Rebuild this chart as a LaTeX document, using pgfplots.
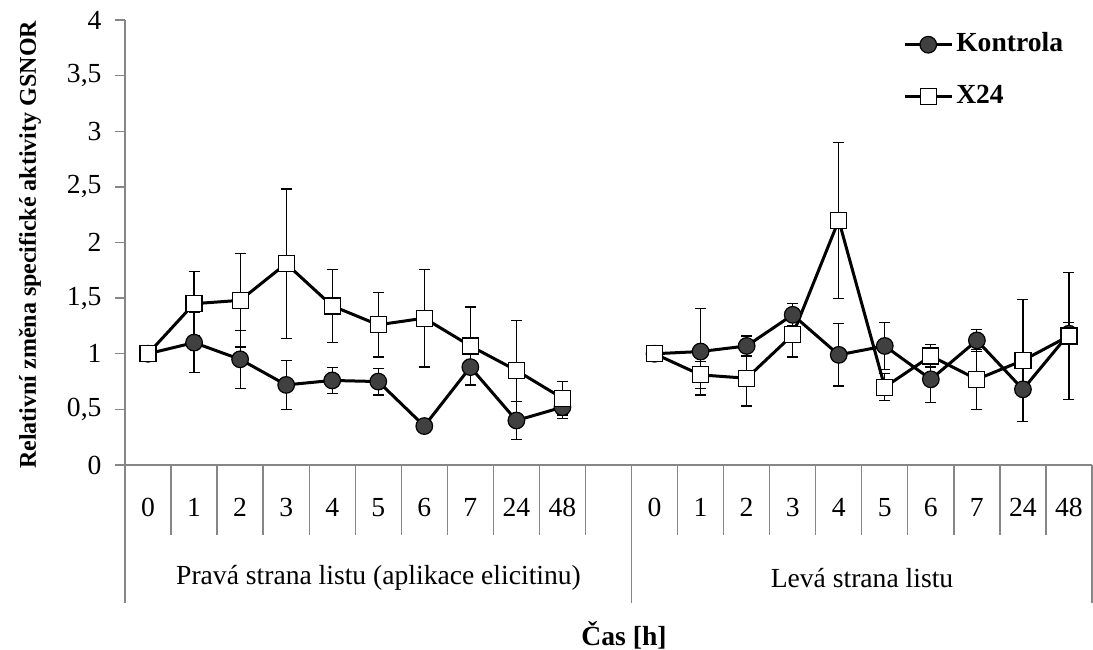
\documentclass[border=0pt]{standalone}
\usepackage{fontspec}
\setmainfont{Liberation Serif}
\usepackage{pgfplots}
\pgfplotsset{compat=1.18}

\definecolor{axgray}{RGB}{134,134,134}
\definecolor{dotgray}{RGB}{64,64,64}
\newcommand{\chartfont}{\fontsize{27.6bp}{33bp}\selectfont}

% x: 0..9 left side, 10 empty, 11..20 right side; columns: x y err
\pgfplotstableread{
x y e
0 1.00 0
1 1.10 0.27
2 0.95 0.26
3 0.72 0.22
4 0.76 0.12
5 0.75 0.12
6 0.35 0.03
7 0.88 0.16
8 0.40 0.17
9 0.52 0.10
10 nan nan
11 1.00 0
12 1.02 0.39
13 1.07 0.09
14 1.35 0.10
15 0.99 0.28
16 1.07 0.21
17 0.77 0.21
18 1.12 0.10
19 0.68 0.29
20 1.18 0.10
}\kontrola

\pgfplotstableread{
x y e
0 1.00 0
1 1.45 0.29
2 1.48 0.42
3 1.81 0.67
4 1.43 0.33
5 1.26 0.29
6 1.32 0.44
7 1.07 0.35
8 0.85 0.45
9 0.60 0.15
10 nan nan
11 1.00 0
12 0.81 0.12
13 0.78 0.25
14 1.17 0.20
15 2.20 0.70
16 0.70 0.12
17 0.98 0.10
18 0.77 0.27
19 0.94 0.55
20 1.16 0.57
}\xdvacetctyri

\begin{document}
\begin{tikzpicture}
\begin{axis}[
    at={(0,0)}, anchor=south west,
    scale only axis,
    width=967bp, height=445bp,
    xmin=-0.5, xmax=20.5,
    ymin=0, ymax=4,
    axis x line*=bottom, axis y line*=left,
    axis line style={axgray, line width=1.3bp},
    xtick={0,...,20},
    xticklabels={0,1,2,3,4,5,6,7,24,48,{},0,1,2,3,4,5,6,7,24,48},
    x tick style={draw=none},
    xticklabel style={anchor=base, yshift=-41bp},
    ytick={0,0.5,...,4},
    y tick style={axgray, line width=1.3bp},
    tick align=outside,
    major tick length=10bp,
    yticklabel style={xshift=-10bp},
    /pgf/number format/.cd, use comma, assume math mode=true,
    /pgfplots/.cd,
    ticklabel style={font=\chartfont},
    unbounded coords=jump,
    clip=false,
    legend style={at={(0.8046,0.973)}, anchor=north west, draw=none, fill=none,
        font=\chartfont\bfseries, inner sep=0pt, row sep=27bp,
        nodes={inner xsep=3bp, inner ysep=0bp, text height=19bp, text depth=6bp}},
    legend cell align=left,
    legend image code/.code={
        \draw[mark repeat=2, mark phase=2] plot coordinates {(0bp,0bp) (23.5bp,0bp) (47bp,0bp)};},
    error bars/error bar style={black, line width=1.2bp, solid},
    error bars/error mark options={rotate=90, mark size=5.5bp, line width=1.2bp, black},
]
\addplot[black, line width=3bp, mark=*, mark size=8.3bp,
    mark options={fill=dotgray, draw=black, line width=1.2bp},
    error bars/.cd, y dir=both, y explicit]
    table[x=x, y=y, y error=e] {\kontrola};
\addlegendentry{Kontrola}
\addplot[black, line width=3bp, mark=square*, mark size=8bp,
    mark options={fill=white, draw=black, line width=1.2bp},
    error bars/.cd, y dir=both, y explicit]
    table[x=x, y=y, y error=e] {\xdvacetctyri};
\addlegendentry{X24}
\end{axis}
% category separators under the x axis
\foreach \i in {1,...,10,12,13,...,20}
    \draw[axgray, line width=1.3bp] (\i*46.0476bp,0) -- ++(0,-70bp);
\foreach \i in {0,11,21}
    \draw[axgray, line width=1.3bp] (\i*46.0476bp,0) -- ++(0,-138bp);
\node[font=\chartfont] at (253.5bp,-113bp) {Pravá strana listu (aplikace elicitinu)};
\node[font=\chartfont] at (737bp,-113bp) {Levá strana listu};
\node[font=\chartfont\bfseries] at (499bp,-170bp) {Čas [h]};
\node[font=\fontsize{24bp}{29bp}\selectfont\bfseries, rotate=90] at (-95bp,220bp)
    {Relativní změna specifické aktivity GSNOR};
\pgfresetboundingbox
\path (-125bp,-185bp) rectangle (968bp,465bp);
\end{tikzpicture}
\end{document}
